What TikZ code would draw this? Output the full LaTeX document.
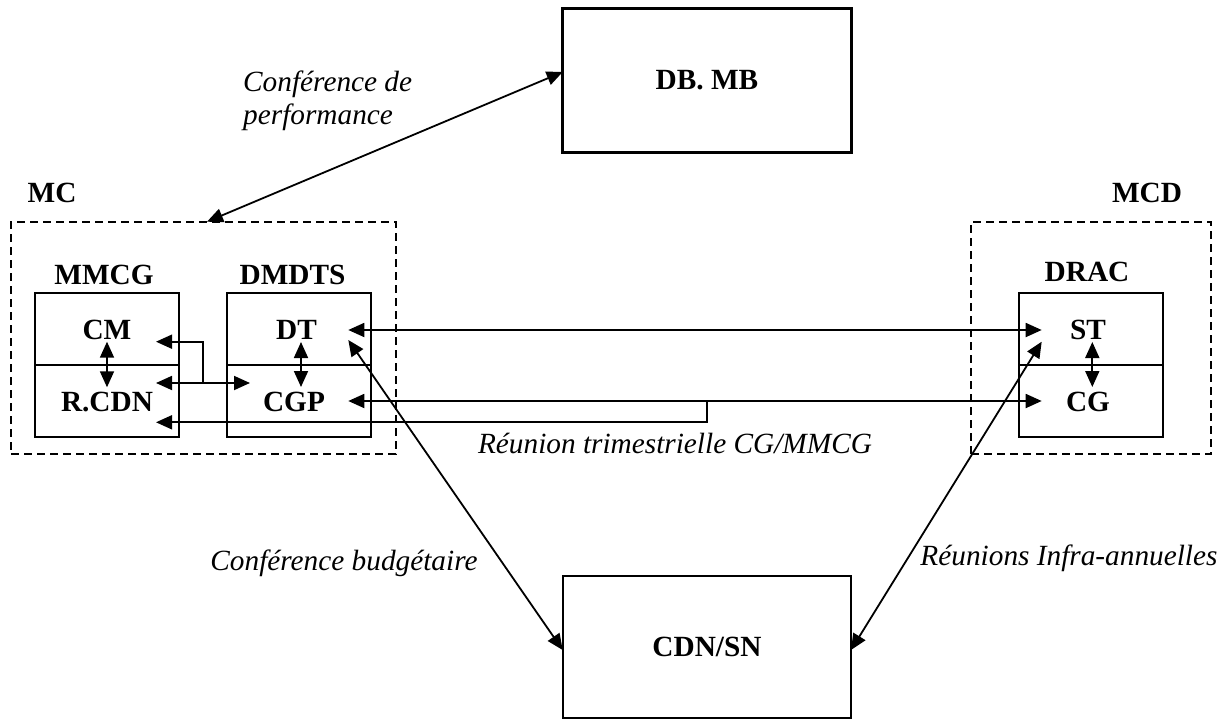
\documentclass[tikz,border=0pt]{standalone}
\usepackage{fontspec}
\setmainfont{Liberation Serif}
\usetikzlibrary{arrows.meta}
\tikzset{
  every node/.style={font=\fontsize{29.3}{32.5}\selectfont},
  bigbox/.style={draw, line width=2.2pt, rectangle, inner sep=0pt, font=\fontsize{29.3}{32.5}\selectfont\bfseries},
  cell/.style={draw, line width=2pt, rectangle, inner sep=0pt, minimum width=144pt, minimum height=72pt},
  celltxt/.style={inner sep=0pt, font=\fontsize{29.3}{32.5}\selectfont\bfseries},
  grp/.style={draw, line width=1.7pt, dash pattern=on 8pt off 5pt, rectangle, inner sep=0pt},
  lbl/.style={inner sep=0pt, font=\fontsize{29.3}{32.5}\selectfont\bfseries},
  ital/.style={inner sep=0pt, font=\fontsize{29.3}{32.5}\selectfont\itshape},
  tipA/.tip={Triangle[length=16pt,width=14pt]},
  arr/.style={line width=1.8pt, -tipA},
  darr/.style={line width=1.8pt, tipA-tipA}
}
\begin{document}
\begin{tikzpicture}[x=1pt,y=-1pt]
\useasboundingbox (0,0) rectangle (1224,720);
% big boxes
\node[bigbox, minimum width=289pt, minimum height=144pt] (dbmb) at (707,80.5) {DB. MB};
\node[bigbox, minimum width=288pt, minimum height=142pt] (cdnsn) at (707,647) {CDN/SN};
% group boxes
\node[grp, minimum width=384.7pt, minimum height=232.3pt] (mc) at (203.35,337.85) {};
\node[grp, minimum width=239.7pt, minimum height=232.3pt] (mcd) at (1090.85,337.85) {};
\node[lbl] (mclbl) at (52,193) {MC};
\node[lbl] (mcdlbl) at (1147,193) {MCD};
\node[lbl] (mmcglbl) at (104,275) {MMCG};
\node[lbl] (dmdtslbl) at (292.5,275) {DMDTS};
\node[lbl] (draclbl) at (1087,272) {DRAC};
% cells
\node[cell] (cmc) at (106.85,329.15) {};
\node[cell] (rcdnc) at (106.85,401.15) {};
\node[cell] (dtc) at (298.85,329.15) {};
\node[cell] (cgpc) at (298.85,401.15) {};
\node[cell, minimum width=143.4pt] (stc) at (1091,329.15) {};
\node[cell, minimum width=143.4pt] (cgc) at (1091,401.15) {};
\node[celltxt] (cm) at (107,330) {CM};
\node[celltxt] (rcdn) at (107,402) {R.CDN};
\node[celltxt] (dt) at (296.5,330) {DT};
\node[celltxt] (cgp) at (294,402) {CGP};
\node[celltxt] (st) at (1088,330) {ST};
\node[celltxt] (cg) at (1088,402) {CG};
% connector end coordinates
\coordinate (perfA) at (207,221.7);
\coordinate (perfB) at (562.7,72);
\coordinate (cmR) at (156,341.7);
\coordinate (cmB) at (107,341.7);
\coordinate (rcdnT) at (107,387.3);
\coordinate (rcdnR) at (156,383);
\coordinate (rcdnR2) at (156,422.3);
\coordinate (cgpL) at (250,383);
\coordinate (jA) at (202.7,383);
\coordinate (dtB) at (301,342);
\coordinate (cgpT) at (301,387);
\coordinate (dtR) at (348.3,330);
\coordinate (dtR2) at (348.3,340);
\coordinate (cgpR) at (348.3,401);
\coordinate (stL) at (1041.7,330);
\coordinate (stL2) at (1041.7,341.7);
\coordinate (cgL) at (1041.7,401);
\coordinate (stB) at (1092.3,342);
\coordinate (cgT) at (1092.3,387);
\coordinate (jB) at (707,401);
\coordinate (cdnW) at (562.7,650);
\coordinate (cdnE) at (851,650);
% connectors
\draw[darr] (perfA) -- (perfB);
\draw[darr] (cmB) -- (rcdnT);
\draw[darr] (dtB) -- (cgpT);
\draw[darr] (stB) -- (cgT);
\draw[darr] (rcdnR) -- (cgpL);
\draw[arr] (jA) |- (cmR);
\draw[darr] (dtR) -- (stL);
\draw[darr] (cgpR) -- (cgL);
\draw[arr] (jB) |- (rcdnR2);
\draw[darr] (dtR2) -- (cdnW);
\draw[darr] (stL2) -- (cdnE);
% labels
\node[ital, anchor=west, align=left] (perflbl) at (243,101) {Conférence de\\performance};
\node[ital] (trimlbl) at (675,443) {Réunion trimestrielle CG/MMCG};
\node[ital] (budglbl) at (344,563) {Conférence budgétaire};
\node[ital] (infralbl) at (1069,558) {Réunions Infra-annuelles};
\end{tikzpicture}
\end{document}
